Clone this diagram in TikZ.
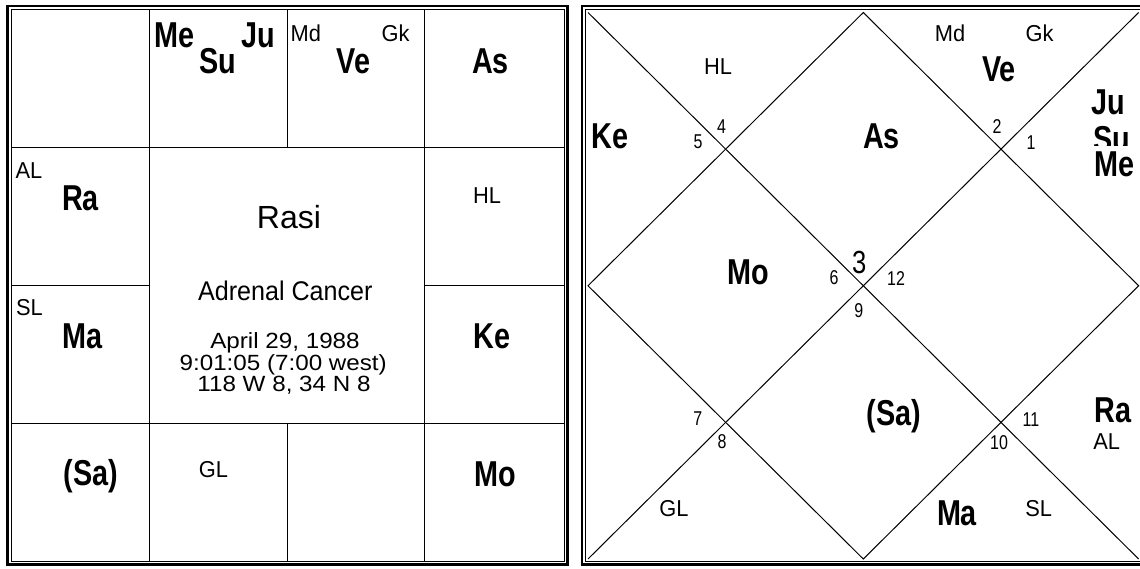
\documentclass[tikz,border=0pt]{standalone}
\usepackage{fontspec}
\setmainfont{Liberation Sans}
\newfontfamily\planetfnt{Liberation Sans}[FakeStretch=0.8]
\newfontfamily\lblfnt{Liberation Sans}[FakeStretch=0.95]
\newfontfamily\numfnt{Liberation Sans}[FakeStretch=0.8]
\newfontfamily\adrfnt{Liberation Sans}[FakeStretch=0.93]
\newfontfamily\datefnt{Liberation Sans}[FakeStretch=1.1]
\tikzset{
  txt/.style={anchor=base, inner sep=0pt, outer sep=0pt},
  planet/.style={txt, font=\planetfnt\bfseries\fontsize{36}{42}\selectfont},
  lbl/.style={txt, font=\lblfnt\fontsize{23}{28}\selectfont},
  num/.style={txt, font=\numfnt\fontsize{20}{24}\selectfont},
  bignum/.style={txt, font=\numfnt\fontsize{32}{38}\selectfont},
  rasititle/.style={txt, font=\fontsize{32}{38}\selectfont},
  adr/.style={txt, font=\adrfnt\fontsize{27}{32}\selectfont},
  info/.style={txt, font=\datefnt\fontsize{22}{26}\selectfont},
  gridline/.style={line width=1pt, black},
  outerframe/.style={line width=2.5pt, black},
  innerframe/.style={line width=1pt, black},
}
\begin{document}
\begin{tikzpicture}[x=1pt,y=-1pt]
\useasboundingbox (0,0) rectangle (1140,569);
\clip (0,0) rectangle (1140,569);
\fill[white] (0,0) rectangle (1140,569);

% ---------------- left chart (south Indian) ----------------
\draw[outerframe] (7.5,6.2) rectangle (567.5,564.3);
\draw[innerframe] (11,9.7) rectangle (564.3,561);
\coordinate (v1t) at (149,9.7);   \coordinate (v1b) at (149,561);
\coordinate (v3t) at (424,9.7);   \coordinate (v3b) at (424,561);
\coordinate (v2t) at (287,9.7);   \coordinate (v2m) at (287,148);
\coordinate (v2n) at (287,423);   \coordinate (v2b) at (287,561);
\coordinate (h1l) at (11,148);    \coordinate (h1r) at (564.3,148);
\coordinate (h3l) at (11,423);    \coordinate (h3r) at (564.3,423);
\coordinate (h2l) at (11,286);    \coordinate (h2m) at (149,286);
\coordinate (h2n) at (424,286);   \coordinate (h2r) at (564.3,286);
\draw[gridline] (v1t) -- (v1b);
\draw[gridline] (v3t) -- (v3b);
\draw[gridline] (v2t) -- (v2m);
\draw[gridline] (v2n) -- (v2b);
\draw[gridline] (h1l) -- (h1r);
\draw[gridline] (h3l) -- (h3r);
\draw[gridline] (h2l) -- (h2m);
\draw[gridline] (h2n) -- (h2r);

\node[planet] (lMe) at (175,47.3) {Me};
\node[planet] (lSu) at (218,73.3) {Su};
\node[planet] (lJu) at (258.4,47.3) {Ju};
\node[lbl]    (lMd) at (305.8,41.7) {Md};
\node[planet] (lVe) at (353.6,73.3) {Ve};
\node[lbl]    (lGk) at (395.5,41.7) {Gk};
\node[planet] (lAs) at (490.5,74) {As};
\node[lbl]    (lAL) at (29,178.3) {AL};
\node[planet] (lRa) at (80.5,211) {Ra};
\node[lbl]    (lHL) at (487,203.3) {HL};
\node[rasititle] (rasi) at (289,228.3) {Rasi};
\node[adr]    (adr) at (285.3,301) {Adrenal Cancer};
\node[info]   (c1) at (285,348.3) {April 29, 1988};
\node[info]   (c2) at (283.2,370.5) {9:01:05 (7:00 west)};
\node[info]   (c3) at (284,391.5) {118 W 8, 34 N 8};
\node[lbl]    (lSL) at (29.5,316) {SL};
\node[planet] (lMa) at (83,348.3) {Ma};
\node[planet] (lKe) at (492,348.3) {Ke};
\node[planet] (lSa) at (91,485) {(Sa)};
\node[lbl]    (lGL) at (213.5,477.3) {GL};
\node[planet] (lMo) at (495,486) {Mo};

% ---------------- right chart (north Indian) ----------------
\draw[outerframe] (582,6.2) rectangle (1145,564.3);
\draw[innerframe] (585.3,9.7) rectangle (1142,561);
\coordinate (TL) at (588,12.5);
\coordinate (TR) at (1138.6,12.5);
\coordinate (BL) at (588,559);
\coordinate (BR) at (1138.6,559);
\coordinate (T) at (863.3,12.5);
\coordinate (B) at (863.3,559);
\coordinate (L) at (588,285.75);
\coordinate (R) at (1138.6,285.75);
\draw[gridline] (TL) -- (BR);
\draw[gridline] (TR) -- (BL);
\draw[gridline] (T) -- (L) -- (B) -- (R) -- cycle;

\node[lbl]    (rHL) at (718,75) {HL};
\node[lbl]    (rMd) at (950,41.7) {Md};
\node[lbl]    (rGk) at (1039.6,41.7) {Gk};
\node[planet] (rVe) at (999,81.7) {Ve};
\node[planet] (rKe) at (610,148.3) {Ke};
\node[num]    (n5) at (698,148.3) {5};
\node[num]    (n4) at (721.5,133.3) {4};
\node[planet] (rAs) at (881.5,148.3) {As};
\node[num]    (n2) at (997,133.3) {2};
\node[num]    (n1) at (1031,149.3) {1};
\node[planet] (rJu) at (1108,115) {Ju};
\node[planet] (rSu) at (1112,152) {Su};
\node[planet, fill=white, text height=31pt, text depth=0pt, inner xsep=3pt] (rMe) at (1114,176.7) {Me};
\node[planet] (rMo) at (748.6,285) {Mo};
\node[num]    (n6) at (834,285) {6};
\node[bignum] (n3) at (859.3,273.3) {3};
\node[num]    (n12) at (896,286) {12};
\node[num]    (n9) at (858.7,317.3) {9};
\node[num]    (n7) at (697.8,425) {7};
\node[num]    (n8) at (722,448.3) {8};
\node[planet] (rSa) at (894,425) {(Sa)};
\node[num]    (n11) at (1031,426) {11};
\node[num]    (n10) at (999,449.3) {10};
\node[planet] (rRa) at (1112.7,422.7) {Ra};
\node[lbl]    (rAL) at (1106.6,449.3) {AL};
\node[lbl]    (rGL) at (674,516) {GL};
\node[planet] (rMa) at (957,525) {Ma};
\node[lbl]    (rSL) at (1038.7,516) {SL};
\end{tikzpicture}
\end{document}
